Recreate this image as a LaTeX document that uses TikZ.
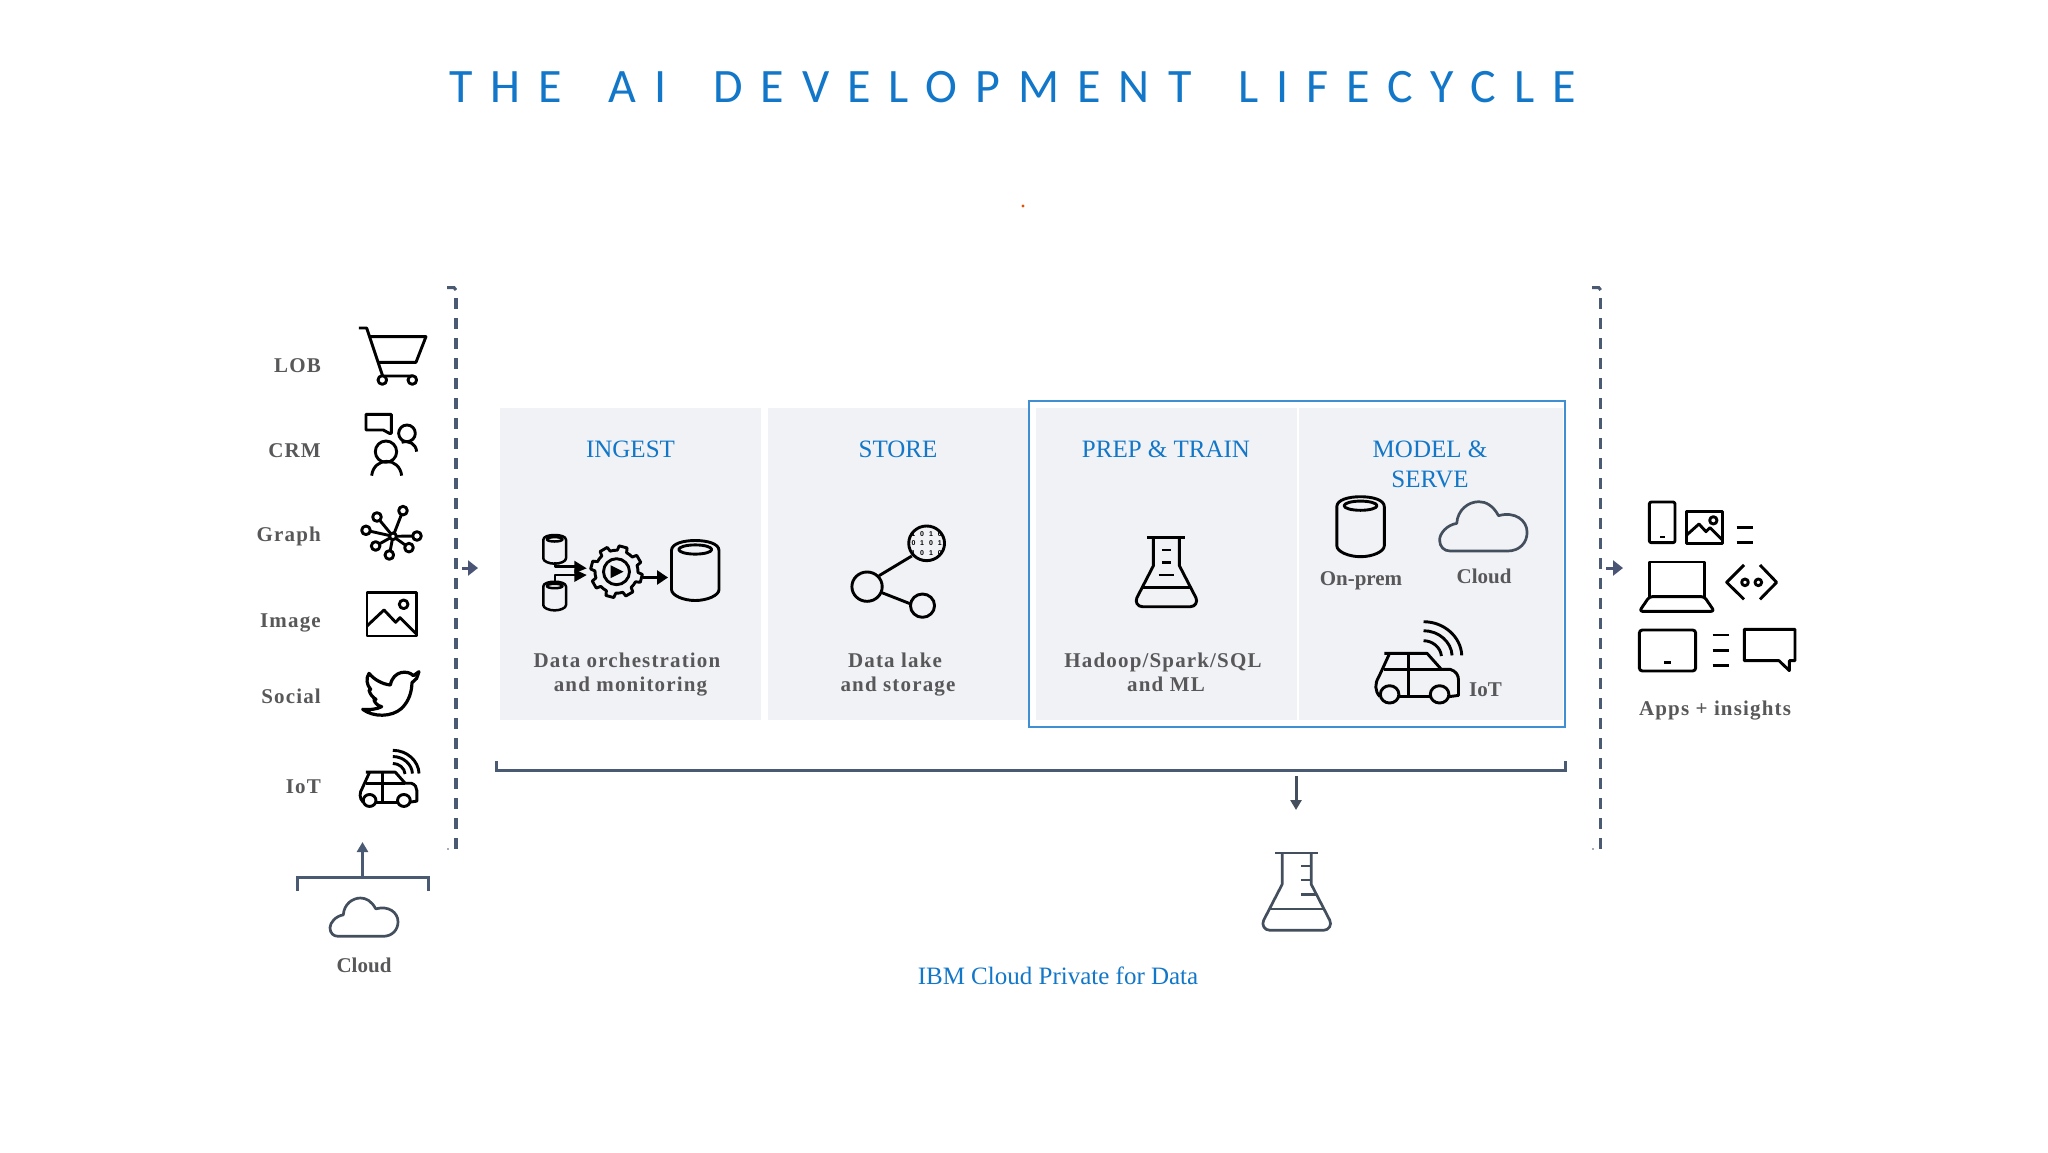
\documentclass[tikz,border=0pt]{standalone}
\usepackage{fontspec}
\usetikzlibrary{arrows.meta}
\setmainfont{Liberation Serif}
\newfontfamily\titlefam{Carlito}[LetterSpace=37.5,WordSpace=1.62]
\newfontfamily\spacedfam{Liberation Serif}[LetterSpace=5.5]
\newfontfamily\binfam{Liberation Sans}
\definecolor{ibmblue}{HTML}{1277C8}
\definecolor{boxblue}{HTML}{3F8FD2}
\definecolor{panelgray}{HTML}{F1F2F5}
\definecolor{textgray}{HTML}{58585A}
\definecolor{slate}{HTML}{4A5A72}
\definecolor{slatedark}{HTML}{444F5E}
\definecolor{arrowslate}{HTML}{4A5474}
\tikzset{
  zoomat/.style n args={4}{shift={(#1,#2)},x=#3pt,y=-#4pt},
  icon/.style={draw=black,line width=2.9pt,line join=round},
  thinicon/.style={draw=black,line width=2.5pt,line join=round},
  softicon/.style={draw=slatedark,line width=2.7pt,line join=round},
  panel/.style={fill=panelgray,draw=none},
  lbl/.style={inner sep=0pt,anchor=base},
  headblue/.style={lbl,text=ibmblue,font=\fontsize{25}{30}\selectfont},
  graysp/.style={lbl,text=textgray,font=\spacedfam\bfseries\fontsize{21}{25}\selectfont},
  grayplain/.style={lbl,text=textgray,font=\bfseries\fontsize{21}{25}\selectfont},
  rule/.style={draw=slate,line width=3pt},
  dashline/.style={draw=slate,line width=3.1pt,dash pattern=on 11pt off 9pt},
  smallarrow/.style={draw=arrowslate,line width=3pt,-{Triangle[length=10pt,width=15pt]}},
  thinarrow/.style={draw=slate,line width=3pt,-{Triangle[length=10pt,width=11pt]}},
  blackarrow/.style={draw=black,line width=3pt,-{Triangle[length=11pt,width=14pt]}},
}
\newcommand\cloudicon[4]{%
  \begin{scope}[zoomat={#1}{#2}{#3}{#4}]
    \draw[softicon] (30,148) -- (190,148) .. controls (225,148) and (245,122) .. (245,92)
      .. controls (245,55) and (210,28) .. (165,42) .. controls (150,12) and (130,0) .. (110,0)
      .. controls (80,0) and (50,25) .. (48,65) .. controls (20,70) and (0,95) .. (0,115)
      .. controls (0,135) and (12,148) .. (30,148) -- cycle;
  \end{scope}}
\newcommand\caricon[4]{%
  \begin{scope}[zoomat={#1}{#2}{#3}{#4}]
    \draw[icon] (27,2) -- (147,2) -- (187,50) -- (212,50) .. controls (228,55) and (235,68) .. (235,82)
      -- (235,128) -- (208,132);
    \draw[icon] (42,2) -- (12,72) .. controls (0,92) and (0,115) .. (15,132);
    \draw[icon] (67,132) -- (157,132);
    \draw[icon] (94,2) -- (94,132);
    \draw[icon] (27,50) -- (187,50);
    \draw[icon] (42,125) circle [radius=26];
    \draw[icon] (182,125) circle [radius=26];
    \draw[icon] (137,-93) .. controls (195,-93) and (242,-47) .. (244,8);
    \draw[icon] (137,-66) .. controls (180,-66) and (215,-32) .. (217,8);
    \draw[icon] (137,-36) .. controls (162,-36) and (185,-16) .. (187,10);
  \end{scope}}
\newcommand\cylicon[4]{%
  \begin{scope}[shift={(#1,#2)},x=#3pt,y=-#3pt]
    \draw[#4] (0,10) .. controls (0,3) and (12,0) .. (23.75,0) .. controls (35.5,0) and (47.5,3) .. (47.5,10)
      -- (47.5,49) .. controls (47.5,55) and (35.5,60) .. (23.75,60) .. controls (12,60) and (0,55) .. (0,49) -- cycle;
    \draw[#4] (23.75,9) ellipse [x radius=16.5,y radius=4.6];
  \end{scope}}
\newcommand\flaskicon[4]{%
  \begin{scope}[shift={(#1,#2)},x=#3pt,y=-#3pt]
    \draw[#4] (-19,0) -- (19,0);
    \draw[#4] (-13,0) -- (-13,28) -- (-29.5,60) .. controls (-31.5,64) and (-29,69) .. (-24,69) -- (24,69)
      .. controls (29,69) and (31.5,64) .. (29.5,60) -- (13,28) -- (13,0);
    \draw[#4] (-24.3,50) -- (24.3,50);
  \end{scope}}
\begin{document}
\begin{tikzpicture}[x=1pt,y=-1pt]
\useasboundingbox (0,0) rectangle (2048,1152);
\fill[white] (0,0) rectangle (2048,1152);

% title
\node[inner sep=0pt,anchor=base west,text=ibmblue,font=\titlefam\fontsize{48}{56}\selectfont] (title) at (449,102) {THE AI DEVELOPMENT LIFECYCLE};
\fill[orange!70!red!90!black] (1023,206) circle [radius=1.6];

% panels
\fill[panel] (500,408) rectangle (761,720);
\fill[panel] (768,408) rectangle (1028,720);
\fill[panel] (1036,408) rectangle (1297,720);
\fill[panel] (1299,408) rectangle (1563,720);
\draw[boxblue,line width=2.2pt] (1029,401) rectangle (1565,727);

% dashed frames
\coordinate (ltop) at (456,298); \coordinate (lbot) at (456,849);
\coordinate (rtop) at (1600.7,298); \coordinate (rbot) at (1600.7,849);
\draw[dashline] (ltop) -- (lbot);
\draw[dashline] (rtop) -- (rbot);
\draw[rule] (447,287.5) -- (454,287.5) -- (456,290);
\draw[rule] (1592,287.5) -- (1598.7,287.5) -- (1600.7,290);
\fill[slate] (448,849) circle [radius=.9];
\fill[slate] (1593,849) circle [radius=.9];

% in / out arrows
\coordinate (ina) at (462,568); \coordinate (inb) at (478,568);
\coordinate (outa) at (1606,568); \coordinate (outb) at (1623,568);
\draw[smallarrow] (ina) -- (inb);
\draw[smallarrow] (outa) -- (outb);

% bottom bracket and arrow
\coordinate (bl) at (496,761); \coordinate (blc) at (496,770.5);
\coordinate (brc) at (1565,770.5); \coordinate (br) at (1565,761);
\draw[rule] (bl) -- (blc) -- (brc) -- (br);
\coordinate (da) at (1296,776); \coordinate (db) at (1296,810);
\draw[thinarrow,draw=slatedark] (da) -- (db);

% left cloud bracket
\coordinate (cl) at (297,891); \coordinate (clc) at (297,877);
\coordinate (crc) at (428,877); \coordinate (cr) at (428,891);
\coordinate (ua) at (362.5,877); \coordinate (ub) at (362.5,842);
\draw[rule] (cl) -- (clc) -- (crc) -- (cr);
\draw[thinarrow] (ua) -- (ub);
\cloudicon{330}{898}{.2776}{.259}
\node[grayplain] (cloudl) at (364,972.5) {Cloud};

% left labels
\node[graysp,anchor=base east] (lob) at (321,372) {LOB};
\node[graysp,anchor=base east] (crm) at (321,457) {CRM};
\node[graysp,anchor=base east] (graph) at (321,541) {Graph};
\node[graysp,anchor=base east] (image) at (321,627) {Image};
\node[graysp,anchor=base east] (social) at (321,703) {Social};
\node[graysp,anchor=base east] (iot) at (321,793) {IoT};

% left icons
\begin{scope}[zoomat={230}{270}{.3333}{.3333}]
  % cart
  \draw[icon] (387,174) -- (410,174) -- (458,318) -- (547,318);
  \draw[icon] (418,200) -- (588,200) -- (558,277) -- (443,277);
  \draw[icon,fill=white] (457,330) circle [radius=13];
  \draw[icon,fill=white] (547,330) circle [radius=13];
  % people
  \draw[icon] (408,433) -- (484,433) -- (484,490) -- (478,490) -- (460,480) -- (408,480) -- cycle;
  \draw[icon] (468,545) circle [radius=32];
  \draw[icon] (425,617) .. controls (428,590) and (448,574) .. (470,574) .. controls (492,574) and (512,590) .. (515,617);
  \draw[icon] (531,490) circle [radius=25];
  \draw[icon] (515,517) .. controls (538,510) and (558,522) .. (560,545);
  % graph
  \foreach \nx/\ny in {441/741,519/722,408/781,561/798,437/828,537/833,478/855}
    \draw[icon] (489,799) -- (\nx,\ny);
  \foreach \nx/\ny in {441/741,519/722,408/781,561/798,437/828,537/833,478/855}
    \draw[icon,fill=white] (\nx,\ny) circle [radius=13];
  \draw[icon,fill=white] (489,799) circle [radius=10];
  % image
  \draw[icon] (411,967) rectangle (559,1098);
  \draw[icon] (521,1003) circle [radius=13];
  \draw[icon] (411,1068) -- (462,1020) -- (497,1057) -- (510,1043) -- (559,1092);
\end{scope}
\begin{scope}[zoomat={350}{660}{.3333}{.3333}]
  \draw[icon,line width=3.2pt,miter limit=10] (207,35) -- (190,47) .. controls (175,30) and (130,30) .. (121,75)
    .. controls (95,72) and (72,58) .. (57,40) .. controls (47,55) and (50,75) .. (62,88) -- (57,90)
    .. controls (60,103) and (68,112) .. (78,118) -- (72,120) .. controls (75,130) and (85,138) .. (95,140)
    .. controls (80,148) and (60,150) .. (38,148) .. controls (70,172) and (125,172) .. (155,145)
    .. controls (178,122) and (185,95) .. (186,68) -- (200,55) -- cycle;
\end{scope}
\caricon{359.3}{771.7}{.2449}{.23}

% INGEST
\node[headblue] (ingest) at (630.5,457) {INGEST};
\cylicon{543.3}{535}{.478}{thinicon}
\cylicon{543.3}{581.7}{.478}{thinicon}
\begin{scope}[zoomat={530}{520}{.3333}{.3333}]
  \draw[icon] (75,127) -- (75,140) -- (140,140);
  \draw[icon] (75,185) -- (75,165) -- (140,165);
  \fill[black] (133,122) -- (170,145) -- (133,160) -- cycle;
  \fill[black] (133,148) -- (170,165) -- (133,186) -- cycle;
\end{scope}
\begin{scope}[shift={(616.5,571.7)}]
  \draw[icon] \foreach \a in {15,60,...,330}{
    ({\a-22.5}:21.5) -- ({\a-13}:21.5) -- ({\a-9}:26) -- ({\a+9}:26) -- ({\a+13}:21.5) -- ({\a+22.5}:21.5)};
  \draw[icon] (0,0) circle [radius=13];
  \fill[black] (-6,-6.5) -- (7,0) -- (-6,6.5) -- cycle;
\end{scope}
\coordinate (ga) at (643,577.5); \coordinate (gb) at (668,577.5);
\draw[blackarrow] (ga) -- (gb);
\cylicon{671.5}{540.5}{1}{icon}
\node[graysp] (di1) at (627,667) {Data orchestration};
\node[graysp] (di2) at (630.5,691) {and monitoring};

% STORE
\node[headblue] (store) at (898,457) {STORE};
\begin{scope}[zoomat={490}{400}{.34435}{.3333}]
  \coordinate (hub) at (1095,560);
  \coordinate (leafa) at (1268,430);
  \coordinate (leafb) at (1256,617);
  \draw[icon] (1130,527) -- (1225,468);
  \draw[icon] (1138,578) -- (1222,612);
  \draw[icon] (hub) circle [radius=44];
  \draw[icon] (leafb) circle [radius=35];
  \begin{scope}
    \clip (leafa) circle [radius=52];
    \foreach \bx/\by/\bit in {1229/402/1,1255/402/0,1281/402/1,1306/402/0,
                              1230/430/0,1255/430/1,1281/430/0,1306/430/1,
                              1229/460/1,1255/460/0,1281/460/1,1306/460/0}
      \node[inner sep=0pt,font=\binfam\bfseries\fontsize{7}{8}\selectfont] (b\bx\by) at (\bx,\by) {\bit};
  \end{scope}
  \draw[icon] (leafa) circle [radius=52];
\end{scope}
\node[graysp] (ds1) at (895,667) {Data lake};
\node[graysp] (ds2) at (898,691) {and storage};

% PREP & TRAIN
\node[headblue] (prep) at (1166,457) {PREP \& TRAIN};
\flaskicon{1166.4}{537.7}{1}{icon}
\begin{scope}[zoomat={1020}{390}{.3571}{.3333}]
  \draw[icon] (397,480) -- (422,480);
  \draw[icon] (397,517) -- (422,517);
  \draw[icon] (388,555) -- (430,555);
\end{scope}
\node[graysp] (dp1) at (1163,667) {Hadoop/Spark/SQL};
\node[graysp] (dp2) at (1166,691) {and ML};

% MODEL & SERVE
\node[headblue] (model) at (1430,457) {MODEL \&};
\node[headblue] (serve) at (1430,487) {SERVE};
\cylicon{1336.8}{496.7}{1}{icon}
\cloudicon{1439.6}{501.7}{.3571}{.3333}
\node[grayplain] (onprem) at (1361,585) {On-prem};
\node[grayplain] (cloudr) at (1484,583) {Cloud};
\caricon{1374.6}{652.7}{.3571}{.3333}
\node[grayplain,anchor=base west] (iotr) at (1469,696) {IoT};

% bottom flask and label
\flaskicon{1296.7}{853}{1.12}{softicon}
\begin{scope}[zoomat={900}{740}{.3333}{.3333}]
  \draw[softicon] (1203,378) -- (1235,378);
  \draw[softicon] (1203,420) -- (1235,420);
  \draw[softicon] (1203,464) -- (1250,464);
\end{scope}
\node[headblue] (ibm) at (1058,984) {IBM Cloud Private for Data};

% output icons
\begin{scope}[zoomat={1580}{480}{.3333}{.3333}]
  \draw[icon,rounded corners=2pt] (208,66) rectangle (285,188);
  \draw[icon] (240,171) -- (254,171);
  \draw[icon] (320,95) rectangle (427,190);
  \draw[icon] (400,121) circle [radius=11];
  \draw[icon] (320,165) -- (357,132) -- (378,155) -- (390,143) -- (427,180);
  \draw[icon] (470,143) -- (520,143);
  \draw[icon] (470,187) -- (520,187);
  \draw[icon] (208,350) -- (208,246) -- (373,246) -- (373,350);
  \draw[icon,rounded corners=3pt] (208,350) -- (373,350) -- (403,394) -- (178,394) -- cycle;
  \draw[icon] (492,255) -- (440,307) -- (492,358);
  \draw[icon] (540,255) -- (590,307) -- (540,358);
  \draw[icon] (495,307) circle [radius=10];
  \draw[icon] (535,307) circle [radius=10];
  \draw[icon,rounded corners=3pt] (178,450) rectangle (347,573);
  \draw[icon] (252,548) -- (274,548);
  \draw[icon] (398,465) -- (448,465);
  \draw[icon] (398,512) -- (448,512);
  \draw[icon] (398,557) -- (448,557);
  \draw[icon] (493,448) -- (645,448) -- (645,542) -- (628,542) -- (628,572) -- (597,542) -- (493,542) -- cycle;
\end{scope}
\node[graysp] (apps) at (1715,715) {Apps + insights};
\end{tikzpicture}
\end{document}
